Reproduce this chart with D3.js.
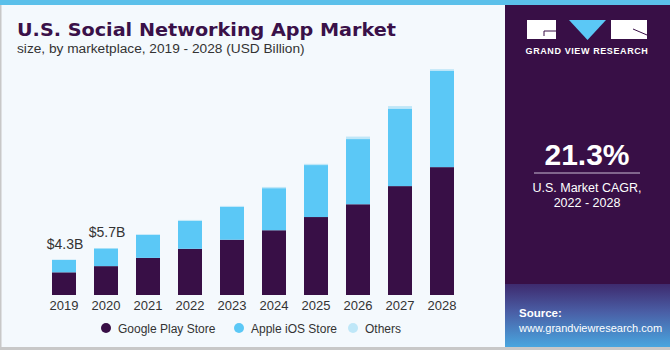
<!DOCTYPE html>
<html lang="en">
<head>
  <meta charset="UTF-8">
  <title>U.S. Social Networking App Market</title>
  <script src="https://d3js.org/d3.v7.min.js"></script>
  <style>
    body { margin: 0; background: #fff; }
    svg { display: block; font-family: "Liberation Sans", Arial, sans-serif; }
  </style>
</head>
<body>
  <svg id="chart" width="670" height="350"></svg>

  <script>
    // data (USD billion)
    const years   = ["2019", "2020", "2021", "2022", "2023", "2024", "2025", "2026", "2027", "2028"];
    const google  = [2.75, 3.5, 4.5, 5.6, 6.7, 7.85, 9.45, 11.0, 13.2, 15.5];
    const apple   = [1.5, 2.15, 2.8, 3.4, 4.0, 5.1, 6.3, 7.9, 9.4, 11.7];
    const others  = [0.05, 0.05, 0.06, 0.1, 0.1, 0.15, 0.15, 0.3, 0.3, 0.17];
    const labels  = ["$4.3B", "$5.7B", "", "", "", "", "", "", "", ""];
    const seriesNames = ["Google Play Store", "Apple iOS Store", "Others"];
    const colors = ["#380f46", "#5bc8f6", "#bfe7f8"];

    const W = 670, H = 350;
    const svg = d3.select("#chart");

    // background + frame
    svg.append("rect").attr("width", W).attr("height", H).attr("fill", "#f4f9fd");
    svg.append("rect").attr("width", W).attr("height", 5).attr("fill", "#5bc0ea");
    svg.append("rect").attr("x", 0).attr("y", 5).attr("width", 1.5).attr("height", H).attr("fill", "#c8c8c8");
    svg.append("rect").attr("x", 0).attr("y", H - 3).attr("width", W).attr("height", 3).attr("fill", "#c8c8c8");

    // title
    svg.append("text").attr("x", 17).attr("y", 36)
      .attr("font-family", "DejaVu Sans, sans-serif")
      .attr("font-size", 18.5).attr("font-weight", "bold").attr("fill", "#3a1149")
      .attr("textLength", 379).attr("lengthAdjust", "spacingAndGlyphs")
      .text("U.S. Social Networking App Market");
    svg.append("text").attr("x", 17).attr("y", 53)
      .attr("font-size", 13.7).attr("fill", "#333")
      .text("size, by marketplace, 2019 - 2028 (USD Billion)");

    // side panel
    const defs = svg.append("defs");
    const grad = defs.append("linearGradient").attr("id", "pgrad")
      .attr("x1", 0).attr("y1", 0).attr("x2", 0).attr("y2", 1);
    grad.append("stop").attr("offset", "0%").attr("stop-color", "#3e2a6e");
    grad.append("stop").attr("offset", "45%").attr("stop-color", "#4a5fa6");
    grad.append("stop").attr("offset", "100%").attr("stop-color", "#49a6df");

    const px = 505;
    svg.append("rect").attr("x", px).attr("y", 5).attr("width", W - px).attr("height", H - 8).attr("fill", "#380f46");
    svg.append("rect").attr("x", px).attr("y", 284).attr("width", W - px).attr("height", H - 3 - 284).attr("fill", "url(#pgrad)");

    // logo
    const logo = svg.append("g");
    logo.append("rect").attr("x", 527).attr("y", 20).attr("width", 29).attr("height", 19).attr("fill", "#fff");
    logo.append("path").attr("d", "M544,36 L544,31 L556,31").attr("fill", "none").attr("stroke", "#380f46").attr("stroke-width", 1);
    logo.append("path").attr("d", "M569,20 L606,20 L587.5,40 Z").attr("fill", "#5bc8f6");
    logo.append("rect").attr("x", 611).attr("y", 20).attr("width", 36).attr("height", 19).attr("fill", "#fff");
    logo.append("path").attr("d", "M633,29 L647,35").attr("fill", "none").attr("stroke", "#380f46").attr("stroke-width", 1);
    logo.append("text").attr("x", 587).attr("y", 54).attr("text-anchor", "middle")
      .attr("font-size", 9).attr("font-weight", "bold").attr("fill", "#fff")
      .attr("letter-spacing", 0.6).text("GRAND VIEW RESEARCH");

    // CAGR
    svg.append("text").attr("x", 587).attr("y", 165).attr("text-anchor", "middle")
      .attr("font-size", 30).attr("font-weight", "bold").attr("fill", "#fff").text("21.3%");
    svg.append("line").attr("x1", 534).attr("x2", 640).attr("y1", 173).attr("y2", 173)
      .attr("stroke", "#c9bdd3").attr("stroke-width", 1);
    svg.append("text").attr("x", 587).attr("y", 192).attr("text-anchor", "middle")
      .attr("font-size", 12.5).attr("fill", "#fff").text("U.S. Market CAGR,");
    svg.append("text").attr("x", 587).attr("y", 207).attr("text-anchor", "middle")
      .attr("font-size", 12.5).attr("fill", "#fff").text("2022 - 2028");

    // source
    svg.append("text").attr("x", 519).attr("y", 317)
      .attr("font-size", 11.5).attr("font-weight", "bold").attr("fill", "#fff").text("Source:");
    svg.append("text").attr("x", 519).attr("y", 332)
      .attr("font-size", 11).attr("fill", "#fff").text("www.grandviewresearch.com");

    // scales
    const x = d3.scaleBand().domain(years).range([43, 463])
      .paddingInner(0.4286).paddingOuter(0.2143);
    const y = d3.scaleLinear().domain([0, 28]).range([295, 64]);

    const rows = years.map((yr, i) => ({ year: yr, google: google[i], apple: apple[i], others: others[i] }));
    const stack = d3.stack().keys(["google", "apple", "others"])(rows);

    svg.append("g").selectAll("g")
      .data(stack).join("g")
      .attr("fill", (d, i) => colors[i])
      .selectAll("rect")
      .data(d => d).join("rect")
      .attr("x", d => x(d.data.year))
      .attr("width", x.bandwidth())
      .attr("y", d => y(d[1]))
      .attr("height", d => y(d[0]) - y(d[1]));

    // value labels
    svg.append("g").selectAll("text")
      .data(rows.filter((d, i) => labels[i])).join("text")
      .attr("x", d => x(d.year) + x.bandwidth() / 2 + 1)
      .attr("y", d => y(d.google + d.apple + d.others) - 11)
      .attr("text-anchor", "middle")
      .attr("font-size", 14).attr("fill", "#333")
      .text(d => labels[years.indexOf(d.year)]);

    // x axis
    const xAxis = svg.append("g").attr("transform", "translate(0,295)")
      .call(d3.axisBottom(x).tickSize(0).tickPadding(6));
    xAxis.select(".domain").remove();
    xAxis.selectAll("text").attr("font-size", 13).attr("fill", "#333")
      .attr("font-family", "Liberation Sans, Arial, sans-serif");

    // legend
    const legX = [106, 239, 353];
    const leg = svg.append("g").selectAll("g")
      .data(seriesNames).join("g")
      .attr("transform", (d, i) => `translate(${legX[i]},328)`);
    leg.append("circle").attr("r", 5).attr("fill", (d, i) => colors[i]);
    leg.append("text").attr("x", 12).attr("y", 4.5)
      .attr("font-size", 12).attr("fill", "#333").text(d => d);
  </script>
</body>
</html>
